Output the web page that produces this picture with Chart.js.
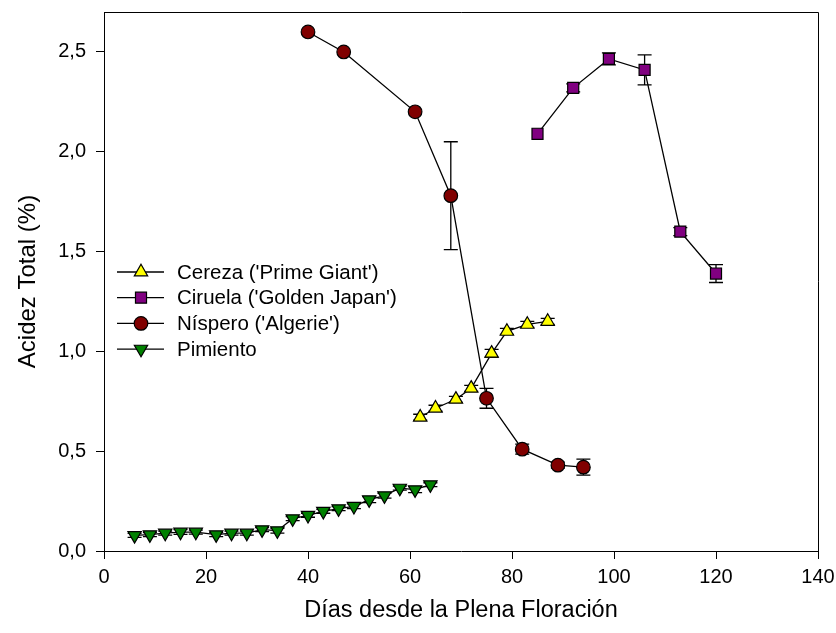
<!DOCTYPE html>
<html>
<head>
<meta charset="utf-8">
<script src="https://cdn.jsdelivr.net/npm/chart.js@4.4.0/dist/chart.umd.min.js"></script>
<style>
html, body { margin: 0; padding: 0; background: #fff; }
#wrap { width: 836px; height: 633px; }
</style>
</head>
<body>
<div id="wrap"><canvas id="chart" width="836" height="633"></canvas></div>
<script>
// Values (días desde plena floración / acidez total %)
const cerezaDias = [62, 65, 69, 72, 76, 79, 83, 87];
const cerezaAcidez = [0.67, 0.715, 0.76, 0.815, 0.99, 1.10, 1.135, 1.15];
const cerezaError = [0.015, 0.015, 0.015, 0.015, 0.02, 0.015, 0.015, 0.015];

const ciruelaDias = [85, 92, 99, 106, 113, 120];
const ciruelaAcidez = [2.09, 2.32, 2.465, 2.41, 1.60, 1.39];
const ciruelaError = [0.0, 0.02, 0.03, 0.075, 0.02, 0.045];

const nisperoDias = [40, 47, 61, 68, 75, 82, 89, 94];
const nisperoAcidez = [2.60, 2.50, 2.20, 1.78, 0.765, 0.51, 0.43, 0.42];
const nisperoError = [0.0, 0.0, 0.0, 0.27, 0.05, 0.025, 0.015, 0.04];

const pimientoDias = [6, 9, 12, 15, 18, 22, 25, 28, 31, 34, 37, 40, 43, 46, 49, 52, 55, 58, 61, 64];
const pimientoAcidez = [0.078, 0.082, 0.09, 0.095, 0.095, 0.082, 0.09, 0.09, 0.107, 0.102,
                        0.162, 0.179, 0.199, 0.212, 0.224, 0.257, 0.277, 0.315, 0.307, 0.332];
const pimientoError = [0.01, 0.01, 0.01, 0.012, 0.01, 0.01, 0.01, 0.01, 0.01, 0.012,
                       0.01, 0.01, 0.01, 0.01, 0.012, 0.015, 0.012, 0.01, 0.015, 0.01];

const xTicks = [0, 20, 40, 60, 80, 100, 120, 140];
const yTicks = [0, 0.5, 1.0, 1.5, 2.0, 2.5];

const FONT = "'Liberation Sans', Arial, Helvetica, sans-serif";

function toPoints(xs, ys) {
    return xs.map((x, i) => ({ x: x, y: ys[i] }));
}

function serie(label, xs, ys, errs, style) {
    return Object.assign({
        label: label,
        data: toPoints(xs, ys),
        errors: errs,
        showLine: true,
        borderColor: '#000',
        borderWidth: 1.3,
        pointBorderColor: '#000',
        pointBorderWidth: 1.2,
        pointHoverRadius: 0,
        tension: 0
    }, style);
}

// Error bars drawn under the markers
const errorBars = {
    id: 'errorBars',
    beforeDatasetsDraw(chart) {
        const ctx = chart.ctx;
        const xs = chart.scales.x;
        const ys = chart.scales.y;
        ctx.save();
        ctx.strokeStyle = '#000';
        ctx.lineWidth = 1.3;
        chart.data.datasets.forEach(ds => {
            ds.data.forEach((p, i) => {
                const e = ds.errors[i];
                if (!e) return;
                const px = xs.getPixelForValue(p.x);
                const top = ys.getPixelForValue(p.y + e);
                const bot = ys.getPixelForValue(p.y - e);
                ctx.beginPath();
                ctx.moveTo(px, top); ctx.lineTo(px, bot);
                ctx.moveTo(px - 7, top); ctx.lineTo(px + 7, top);
                ctx.moveTo(px - 7, bot); ctx.lineTo(px + 7, bot);
                ctx.stroke();
            });
        });
        ctx.restore();
    }
};

// Box frame (top and right sides)
const frame = {
    id: 'frame',
    afterDraw(chart) {
        const a = chart.chartArea;
        const ctx = chart.ctx;
        ctx.save();
        ctx.strokeStyle = '#000';
        ctx.lineWidth = 1;
        ctx.beginPath();
        ctx.moveTo(a.left, a.top + 0.5);
        ctx.lineTo(a.right + 0.5, a.top + 0.5);
        ctx.lineTo(a.right + 0.5, a.bottom);
        ctx.stroke();
        ctx.restore();
    }
};

// Legend inside the plot area, to the left
const insideLegend = {
    id: 'insideLegend',
    afterDraw(chart) {
        const ctx = chart.ctx;
        const x0 = 117, y0 = 272, rowH = 25.7;
        ctx.save();
        ctx.font = '20.5px ' + FONT;
        ctx.textBaseline = 'middle';
        chart.data.datasets.forEach((ds, i) => {
            const y = y0 + i * rowH;
            ctx.strokeStyle = '#000';
            ctx.lineWidth = 1.3;
            ctx.beginPath();
            ctx.moveTo(x0, y); ctx.lineTo(x0 + 47, y);
            ctx.stroke();
            ctx.fillStyle = ds.pointBackgroundColor;
            ctx.strokeStyle = '#000';
            ctx.lineWidth = 1.2;
            Chart.helpers.drawPoint(ctx, {
                pointStyle: ds.pointStyle,
                radius: ds.pointRadius,
                rotation: ds.pointRotation || 0,
                borderWidth: 1.2
            }, x0 + 24, y);
            ctx.fillStyle = '#000';
            ctx.fillText(ds.label, x0 + 60, y + 1);
        });
        ctx.restore();
    }
};

const ctx = document.getElementById('chart').getContext('2d');
new Chart(ctx, {
    type: 'scatter',
    data: {
        datasets: [
            serie("Cereza ('Prime Giant')", cerezaDias, cerezaAcidez, cerezaError,
                { pointStyle: 'triangle', pointRadius: 7.7, pointBackgroundColor: '#ffff00' }),
            serie("Ciruela ('Golden Japan')", ciruelaDias, ciruelaAcidez, ciruelaError,
                { pointStyle: 'rect', pointRadius: 7.8, pointBackgroundColor: '#800080' }),
            serie("Níspero ('Algerie')", nisperoDias, nisperoAcidez, nisperoError,
                { pointStyle: 'circle', pointRadius: 6.8, pointBackgroundColor: '#800000' }),
            serie('Pimiento', pimientoDias, pimientoAcidez, pimientoError,
                { pointStyle: 'triangle', pointRotation: 180, pointRadius: 7.7, pointBackgroundColor: '#008000' })
        ]
    },
    options: {
        responsive: false,
        animation: false,
        devicePixelRatio: 1,
        layout: { padding: { left: 0, top: 12, right: 18, bottom: 0 } },
        plugins: {
            legend: { display: false },
            tooltip: { enabled: false }
        },
        scales: {
            x: {
                type: 'linear',
                min: 0,
                max: 140,
                afterBuildTicks: s => { s.ticks = xTicks.map(v => ({ value: v })); },
                afterFit: s => { s.height = 82; s.paddingLeft = 0; s.paddingRight = 0; },
                grid: { display: true, drawOnChartArea: false, drawTicks: true, tickLength: 8, color: '#000' },
                border: { display: true, color: '#000', width: 1 },
                ticks: { color: '#000', font: { family: FONT, size: 20 }, padding: 6, maxRotation: 0 },
                title: {
                    display: true,
                    text: 'Días desde la Plena Floración',
                    color: '#000',
                    font: { family: FONT, size: 23.5 },
                    padding: { top: 0, bottom: 8 }
                }
            },
            y: {
                min: 0,
                max: 2.7,
                afterBuildTicks: s => { s.ticks = yTicks.map(v => ({ value: v })); },
                afterFit: s => { s.width = 104; s.paddingTop = 0; s.paddingBottom = 0; },
                grid: { display: true, drawOnChartArea: false, drawTicks: true, tickLength: 8, color: '#000' },
                border: { display: true, color: '#000', width: 1 },
                ticks: {
                    color: '#000',
                    font: { family: FONT, size: 20 },
                    padding: 10,
                    callback: v => v.toFixed(1).replace('.', ',')
                },
                title: {
                    display: true,
                    text: 'Acidez Total (%)',
                    color: '#000',
                    font: { family: FONT, size: 24 },
                    padding: { top: 14, bottom: 0 }
                }
            }
        }
    },
    plugins: [errorBars, frame, insideLegend]
});
</script>
</body>
</html>
